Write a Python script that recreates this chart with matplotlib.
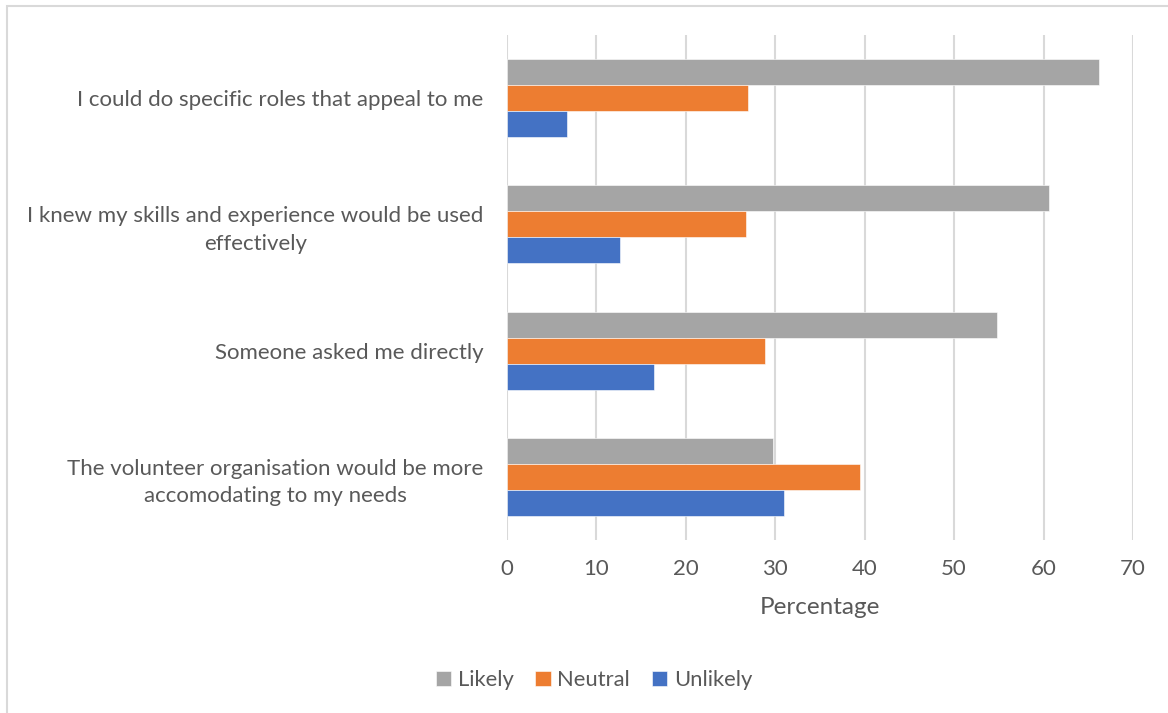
import matplotlib
matplotlib.use("Agg")
import matplotlib.pyplot as plt
import numpy as np
from matplotlib.patches import Rectangle

categories = [
    "I could do specific roles that appeal to me",
    "I knew my skills and experience would be used\neffectively",
    "Someone asked me directly",
    "The volunteer organisation would be more\naccomodating to my needs",
]
series_names = ["Likely", "Neutral", "Unlikely"]
likely = [66.2, 60.6, 54.8, 29.7]
neutral = [27.0, 26.7, 28.8, 39.5]
unlikely = [6.7, 12.6, 16.4, 31.0]
colors = ["#a5a5a5", "#ed7d31", "#4472c4"]
xticks = [0, 10, 20, 30, 40, 50, 60, 70]

plt.rcParams['font.family'] = ['Lato', 'DejaVu Sans']
text_color = "#595959"

fig = plt.figure(figsize=(11.68, 7.13), dpi=100)
ax = fig.add_axes([507/1168, 1-540/713, (1133-507)/1168, (540-35)/713])

y = np.arange(len(categories))
h = 0.206
for i, (vals, name, c) in enumerate(zip([likely, neutral, unlikely], series_names, colors)):
    ax.barh(y + (i - 1) * h, vals, height=h, color=c, label=name, zorder=3,
            edgecolor='white', linewidth=0.4)

ax.set_ylim(len(categories) - 0.5, -0.5)
ax.set_xlim(0, 70)
ax.set_xticks(xticks)
ax.set_yticks(y)
ax.set_yticklabels(categories, multialignment='center', linespacing=1.45,
                   va='center_baseline')
ax.tick_params(axis='both', length=0, colors=text_color, labelsize=16)
ax.tick_params(axis='y', pad=17)
ax.tick_params(axis='x', pad=14)
for s in ax.spines.values():
    s.set_visible(False)
ax.grid(axis='x', color='#d9d9d9', linewidth=1.5, zorder=0)
ax.set_xlabel("Percentage", color=text_color, fontsize=17.5, labelpad=13)

leg = fig.legend(loc='center', bbox_to_anchor=(594/1168, 1-680/713), ncol=3, frameon=False,
                 fontsize=15.8, handlelength=0.7, handleheight=0.7, handletextpad=0.3,
                 columnspacing=1.0)
for t in leg.get_texts():
    t.set_color(text_color)

fig.patches.append(Rectangle((7/1168, -0.1), 1.2, 1 - 6/713 + 0.1, transform=fig.transFigure,
                             fill=False, edgecolor='#d9d9d9', linewidth=1.5))

fig.savefig("out.png", dpi=100)
